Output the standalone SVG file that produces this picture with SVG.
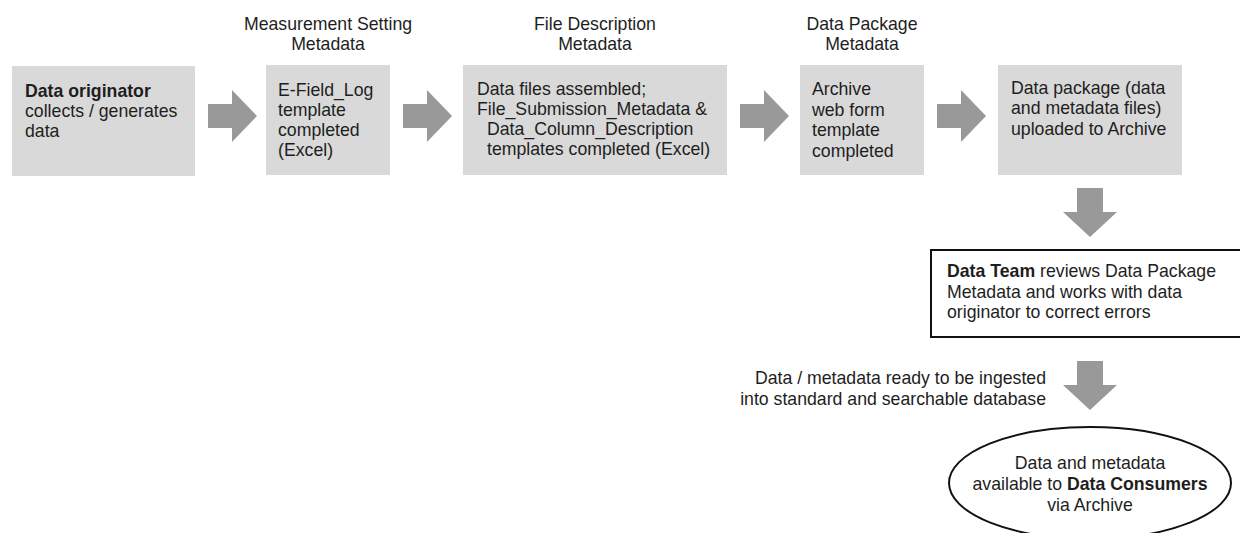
<svg xmlns="http://www.w3.org/2000/svg" width="1240" height="533" viewBox="0 0 1240 533">
<defs>
<style>
text{font-family:"Liberation Sans",Arial,sans-serif;font-size:17.7px;fill:#1e1e1e}
.b{font-weight:bold}
.box{fill:#d9d9d9}
.arr{fill:#999999}
.hd{text-anchor:middle}
</style>
</defs>
<rect width="1240" height="533" fill="#ffffff"/>
<g id="headers">
<text class="hd" x="328" y="30">Measurement Setting</text>
<text class="hd" x="328" y="50">Metadata</text>
<text class="hd" x="595" y="30">File Description</text>
<text class="hd" x="595" y="50">Metadata</text>
<text class="hd" x="862" y="30">Data Package</text>
<text class="hd" x="862" y="50">Metadata</text>
</g>
<g id="node-originator">
<rect class="box" x="12" y="66" width="183" height="110"/>
<text x="25" y="97"><tspan class="b">Data originator</tspan></text>
<text x="25" y="117">collects / generates</text>
<text x="25" y="137">data</text>
</g>
<g id="node-efield">
<rect class="box" x="266" y="65" width="124" height="110"/>
<text x="278" y="96">E-Field_Log</text>
<text x="278" y="116">template</text>
<text x="278" y="136">completed</text>
<text x="278" y="156">(Excel)</text>
</g>
<g id="node-filedesc">
<rect class="box" x="463" y="65" width="264" height="110"/>
<text x="477" y="95">Data files assembled;</text>
<text x="477" y="115">File_Submission_Metadata &amp;</text>
<text x="487" y="135">Data_Column_Description</text>
<text x="487" y="155">templates completed (Excel)</text>
</g>
<g id="node-webform">
<rect class="box" x="800" y="65" width="124" height="110"/>
<text x="812" y="95">Archive</text>
<text x="812" y="116">web form</text>
<text x="812" y="136">template</text>
<text x="812" y="157">completed</text>
</g>
<g id="node-upload">
<rect class="box" x="998" y="65" width="184" height="110"/>
<text x="1011" y="94">Data package (data</text>
<text x="1011" y="114">and metadata files)</text>
<text x="1011" y="135">uploaded to Archive</text>
</g>
<g id="node-datateam">
<rect x="931" y="250" width="312" height="87" fill="#ffffff" stroke="#111111" stroke-width="2"/>
<text x="947" y="277"><tspan class="b">Data Team</tspan> reviews Data Package</text>
<text x="947" y="298">Metadata and works with data</text>
<text x="947" y="318">originator to correct errors</text>
</g>
<g id="node-ready-label">
<text x="1046" y="384" text-anchor="end">Data / metadata ready to be ingested</text>
<text x="1046" y="405" text-anchor="end">into standard and searchable database</text>
</g>
<g id="node-consumers">
<ellipse cx="1090" cy="483" rx="141" ry="56" fill="#ffffff" stroke="#111111" stroke-width="2"/>
<text class="hd" x="1090" y="469">Data and metadata</text>
<text class="hd" x="1090" y="490">available to <tspan class="b">Data Consumers</tspan></text>
<text class="hd" x="1090" y="511">via Archive</text>
</g>
<g id="connectors">
<path class="arr" d="M208,104 H232 V90 L257,116 L232,142 V128 H208 Z"/>
<path class="arr" d="M403,104 H427 V90 L452,116 L427,142 V128 H403 Z"/>
<path class="arr" d="M740,104 H764 V90 L789,116 L764,142 V128 H740 Z"/>
<path class="arr" d="M937,104 H961 V90 L986,116 L961,142 V128 H937 Z"/>
<path class="arr" d="M1077,188 V212 H1063 L1090,237 L1117,212 H1103 V188 Z"/>
<path class="arr" d="M1077,361 V385 H1063 L1090,410 L1117,385 H1103 V361 Z"/>
</g>
</svg>
